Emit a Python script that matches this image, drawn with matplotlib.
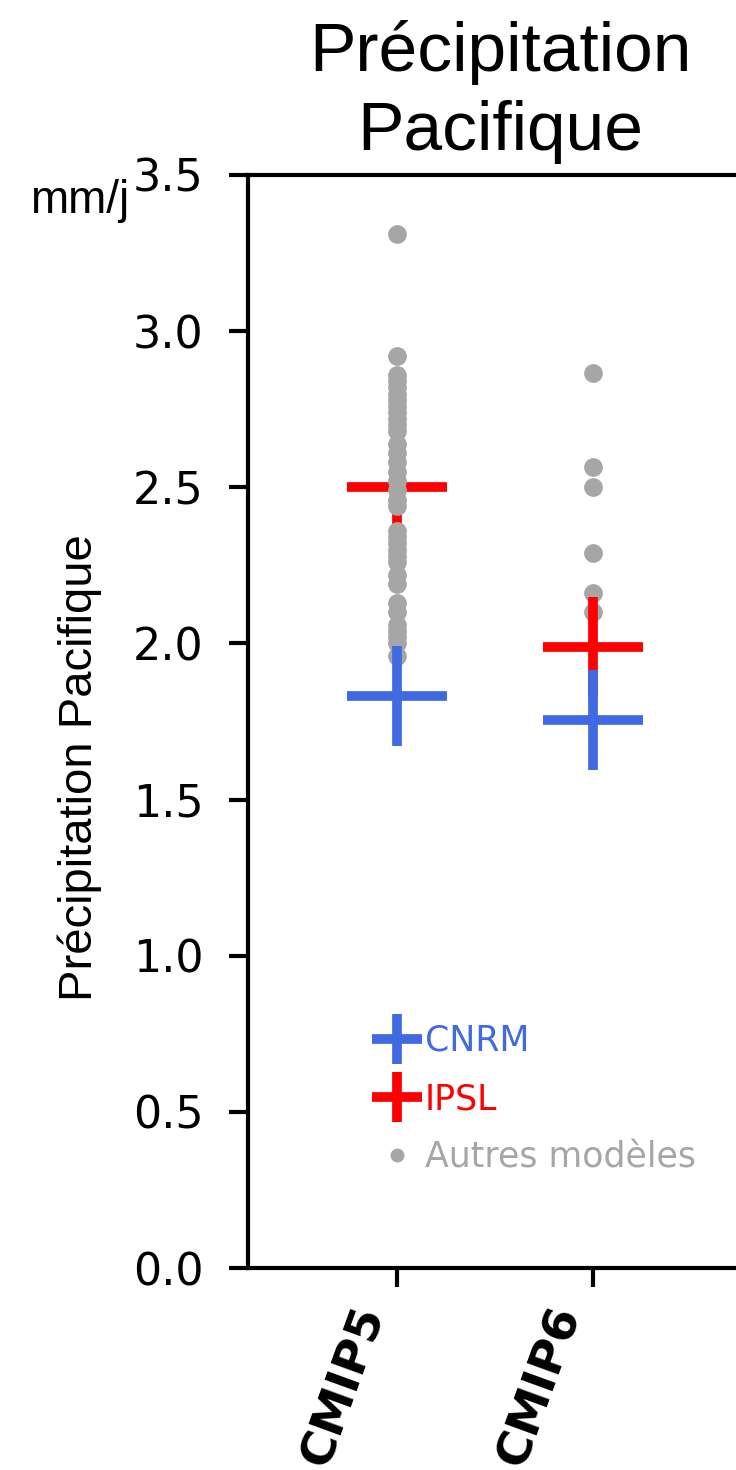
import numpy as np
import matplotlib
matplotlib.use("Agg")
import matplotlib.pyplot as plt
from matplotlib.lines import Line2D
from matplotlib.transforms import ScaledTranslation

# données
groupes = ['CMIP5', 'CMIP6']
cnrm = [1.83, 1.755]
ipsl = [2.50, 1.99]
autres_cmip5 = [3.31, 2.92, 2.86, 2.84, 2.82, 2.80, 2.78, 2.76, 2.74, 2.72, 2.70,
                2.68, 2.64, 2.61, 2.58, 2.55, 2.52, 2.49, 2.46, 2.44, 2.36, 2.34,
                2.32, 2.30, 2.28, 2.26, 2.22, 2.19, 2.13, 2.10, 2.06, 2.04, 2.02,
                2.00, 1.96]
autres_cmip6 = [2.865, 2.565, 2.50, 2.29, 2.16, 2.10]
yticks = [0.0, 0.5, 1.0, 1.5, 2.0, 2.5, 3.0, 3.5]

bleu = '#4169E1'
rouge = '#FF0000'
gris = '#A6A6A6'

fig = plt.figure(figsize=(7.36, 14.70), dpi=100)
ax = fig.add_axes([0.337, 0.1374, 0.685, 0.7436])

x = np.arange(len(groupes))

# croix IPSL (sous les autres modèles en CMIP5, au-dessus en CMIP6)
ax.plot(x[0], ipsl[0], '+', color=rouge, ms=72, mew=7, zorder=2)
ax.plot(x[1], ipsl[1], '+', color=rouge, ms=72, mew=7, zorder=4)
ax.plot(np.full(len(autres_cmip5), x[0]), autres_cmip5, 'o', color=gris, ms=13.5, mew=0, zorder=3)
ax.plot(np.full(len(autres_cmip6), x[1]), autres_cmip6, 'o', color=gris, ms=13.5, mew=0, zorder=3)
ax.plot(x, cnrm, '+', color=bleu, ms=72, mew=7, ls='none', zorder=5)

ax.set_xlim(-0.76, 1.81)
ax.set_ylim(0, 3.5)
ax.set_yticks(yticks)
ax.set_yticklabels([f'{v:.1f}' for v in yticks])
ax.set_xticks(x)
ax.set_xticklabels(groupes, rotation=70, ha='right', va='center',
                   rotation_mode='anchor', fontweight='bold')

ax.tick_params(axis='y', labelsize=32, width=3, length=14, pad=18)
ax.tick_params(axis='x', labelsize=34, width=3, length=14, pad=22)
decal = ScaledTranslation(-0.25, 0.10, fig.dpi_scale_trans)
for lab in ax.get_xticklabels():
    lab.set_transform(lab.get_transform() + decal)
for s in ['left', 'bottom', 'top']:
    ax.spines[s].set_linewidth(3)
ax.spines['right'].set_visible(False)

ax.set_ylabel('Précipitation Pacifique', fontsize=34, family='Liberation Sans')
ax.yaxis.set_label_coords(-0.29, 0.458)

ax.set_title('Précipitation\nPacifique', fontsize=50, family='Liberation Sans',
             linespacing=1.3, pad=18)

fig.text(30 / 736, 1 - 213 / 1470, 'mm/j', fontsize=33, family='Liberation Sans',
         va='baseline', ha='left')

handles = [
    Line2D([], [], marker='+', color=bleu, ls='none', ms=36, mew=7),
    Line2D([], [], marker='+', color=rouge, ls='none', ms=36, mew=7),
    Line2D([], [], marker='o', color=gris, ls='none', ms=10, mew=0),
]
leg = ax.legend(handles, ['CNRM', 'IPSL', 'Autres modèles'], frameon=False,
                fontsize=25, loc='lower left', bbox_to_anchor=(0.192, 0.057),
                handlelength=1.2, handletextpad=0.2, labelspacing=0.7)
for t, c in zip(leg.get_texts(), [bleu, rouge, gris]):
    t.set_color(c)

fig.savefig('out.png', dpi=100)
